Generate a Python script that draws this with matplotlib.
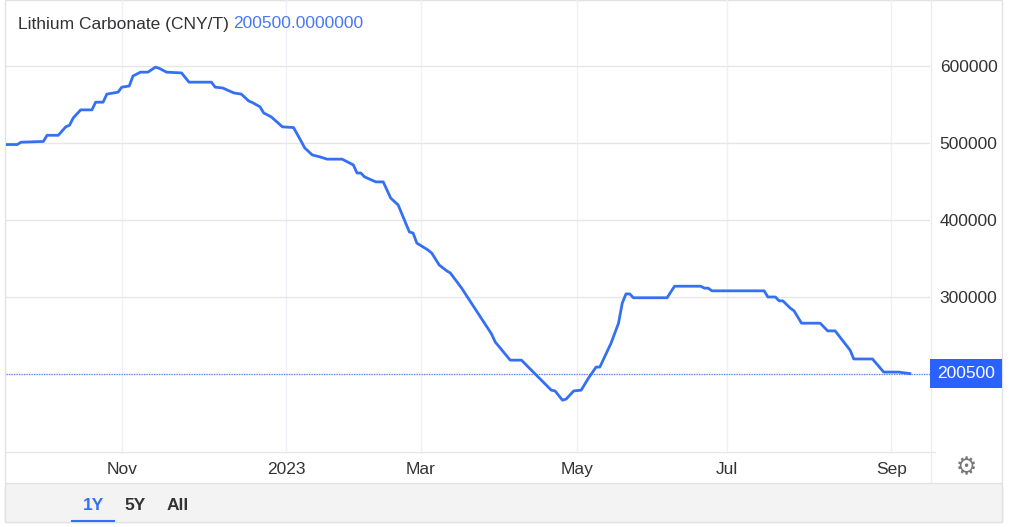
import numpy as np
import pandas as pd
import matplotlib
matplotlib.use('Agg')
import matplotlib.pyplot as plt
from matplotlib.patches import Rectangle

plt.rcParams['font.family'] = ['Liberation Sans', 'DejaVu Sans']

# -------- data (daily spot price, CNY/T) --------
dates = [
    '2022-09-09', '2022-09-15', '2022-09-16', '2022-09-26', '2022-09-27', '2022-09-30',
    '2022-10-11', '2022-10-12', '2022-10-13', '2022-10-17', '2022-10-20', '2022-10-21',
    '2022-10-25', '2022-10-26', '2022-10-31', '2022-11-01', '2022-11-03', '2022-11-04',
    '2022-11-08', '2022-11-10', '2022-11-14', '2022-11-15', '2022-11-17', '2022-11-23',
    '2022-11-25', '2022-12-05', '2022-12-06', '2022-12-08', '2022-12-13', '2022-12-15',
    '2022-12-19', '2022-12-20', '2022-12-22', '2022-12-23', '2022-12-27', '2022-12-30',
    '2023-01-05', '2023-01-09', '2023-01-10', '2023-01-12', '2023-01-16', '2023-01-18',
    '2023-01-31', '2023-02-03', '2023-02-06', '2023-02-07', '2023-02-08', '2023-02-13',
    '2023-02-15', '2023-02-17', '2023-02-21', '2023-02-24', '2023-02-27', '2023-02-28',
    '2023-03-03', '2023-03-06', '2023-03-08', '2023-03-10', '2023-03-13', '2023-03-16',
    '2023-03-17', '2023-03-28', '2023-03-29', '2023-04-04', '2023-04-10', '2023-04-20',
    '2023-04-21', '2023-04-25', '2023-04-26', '2023-04-28', '2023-05-05', '2023-05-09',
    '2023-05-11', '2023-05-12', '2023-05-17', '2023-05-19', '2023-05-22', '2023-05-23',
    '2023-05-24', '2023-05-25', '2023-06-07', '2023-06-09', '2023-06-20', '2023-06-21',
    '2023-06-26', '2023-06-27', '2023-07-17', '2023-07-18', '2023-07-20', '2023-07-21',
    '2023-07-24', '2023-07-26', '2023-07-27', '2023-07-31', '2023-08-07', '2023-08-09',
    '2023-08-11', '2023-08-17', '2023-08-18', '2023-08-25', '2023-08-30', '2023-09-05',
    '2023-09-08',
]
prices = [
    498000, 498000, 501000, 502000, 510000, 510000,
    521000, 523000, 532500, 543000, 543000, 553000,
    553000, 563500, 566000, 572500, 574000, 587000,
    592000, 592000, 598500, 597000, 592000, 591000,
    579000, 579000, 572500, 571500, 565000, 563500,
    554500, 552500, 547000, 539000, 534000, 521000,
    520000, 502500, 493500, 484500, 482000, 479000,
    479000, 471500, 461000, 461000, 456000, 449500,
    449500, 428500, 419500, 384500, 383000, 370000,
    361000, 357000, 341500, 334000, 331000, 311500,
    304000, 252000, 241500, 218000, 218000, 179000,
    178000, 166000, 167500, 178000, 179000, 195000,
    209000, 209000, 240000, 266000, 292000, 304000,
    304000, 299000, 299000, 314000, 314000, 311500,
    311500, 308000, 308000, 300000, 300000, 295000,
    295000, 285500, 282000, 266000, 266000, 256000,
    256000, 231000, 219500, 219500, 202500, 202500,
    200500,
]
last_price = 200500
month_ticks = ['2022-11', '2023-01', '2023-03', '2023-05', '2023-07', '2023-09']
month_labels = ['Nov', '2023', 'Mar', 'May', 'Jul', 'Sep']
y_ticks = [200000, 300000, 400000, 500000, 600000]

# trading calendar (weekdays minus exchange holidays) -> x axis in sessions
holidays = pd.to_datetime([
    '2022-09-12', '2022-10-03', '2022-10-04', '2022-10-05', '2022-10-06', '2022-10-07',
    '2023-01-02', '2023-01-23', '2023-01-24', '2023-01-25', '2023-01-26', '2023-01-27',
    '2023-04-05', '2023-05-01', '2023-05-02', '2023-05-03', '2023-06-22', '2023-06-23',
])
cal = pd.bdate_range('2022-09-01', '2023-09-30')
cal = cal[~cal.isin(holidays)]
x = cal.get_indexer(pd.to_datetime(dates))
tick_pos = [np.argmax(cal.strftime('%Y-%m') == m) for m in month_ticks]

BLUE = '#3470f4'
W, H = 1024, 527
fig = plt.figure(figsize=(W / 100, H / 100), dpi=100)

# background frame, bottom band, range buttons
bg = fig.add_axes([0, 0, 1, 1], zorder=0)
bg.set_xlim(0, W)
bg.set_ylim(H, 0)
bg.axis('off')
bg.add_patch(Rectangle((5, 0), 997, 522, facecolor='white', edgecolor='#e2e2e2', lw=1))
bg.add_patch(Rectangle((5, 483), 997, 39, facecolor='#f3f3f3', edgecolor='#e2e2e2', lw=1))
bg.plot([5, 935], [452, 452], color='#e6e6e6', lw=1)
bg.plot([931, 931], [0, 483], color='#ececec', lw=1)
bg.text(93, 506, '1Y', color=BLUE, fontsize=12.5, fontweight='bold', ha='center', va='center')
bg.text(135, 506, '5Y', color='#333333', fontsize=12.5, fontweight='bold', ha='center', va='center')
bg.text(178, 506, 'All', color='#333333', fontsize=12.5, fontweight='bold', ha='center', va='center')
bg.plot([72, 114], [520.5, 520.5], color=BLUE, lw=1.5)
bg.text(966, 467, '\u2699', family='DejaVu Sans', color='#777777', fontsize=17, ha='center', va='center')

# main chart
ax = fig.add_axes([6 / W, (H - 452) / H, 924 / W, 452 / H], zorder=1)
ax.set_facecolor('none')
ax.plot(x, prices, color=BLUE, lw=2.0, solid_joinstyle='round')
ax.axhline(last_price, color=BLUE, lw=0.9, ls=(0, (1, 1)), alpha=0.8)
ax.set_xlim(x[0], x[-1] + 5.4)
ax.set_ylim(98700, 685700)
for s in ax.spines.values():
    s.set_visible(False)
ax.set_xticks(tick_pos)
ax.set_xticklabels(month_labels)
ax.set_yticks(y_ticks)
ax.set_yticklabels([''] + [str(v) for v in y_ticks[1:]])
ax.yaxis.tick_right()
ax.tick_params(axis='both', length=0, labelsize=12.5, labelcolor='#333333')
ax.tick_params(axis='y', pad=7)
ax.tick_params(axis='x', pad=7)
ax.grid(axis='y', color='#e6e6e6', lw=1)
ax.grid(axis='x', color='#eef2f8', lw=1)
ax.set_axisbelow(True)
ax.annotate(str(last_price), xy=(1.0, last_price), xycoords=('axes fraction', 'data'),
            xytext=(7, 0), textcoords='offset pixels', ha='left', va='center',
            color='white', fontsize=12.5, annotation_clip=False,
            bbox=dict(boxstyle='square,pad=0.4', fc='#2962ff', ec='none'))

fig.text(18 / W, 1 - 24 / H, 'Lithium Carbonate (CNY/T)', color='#333333', fontsize=12.5, va='center')
fig.text(233 / W, 1 - 24 / H, '200500.0000000', color='#4a78f5', fontsize=12.5, va='center')

fig.savefig('out.png', dpi=100)
